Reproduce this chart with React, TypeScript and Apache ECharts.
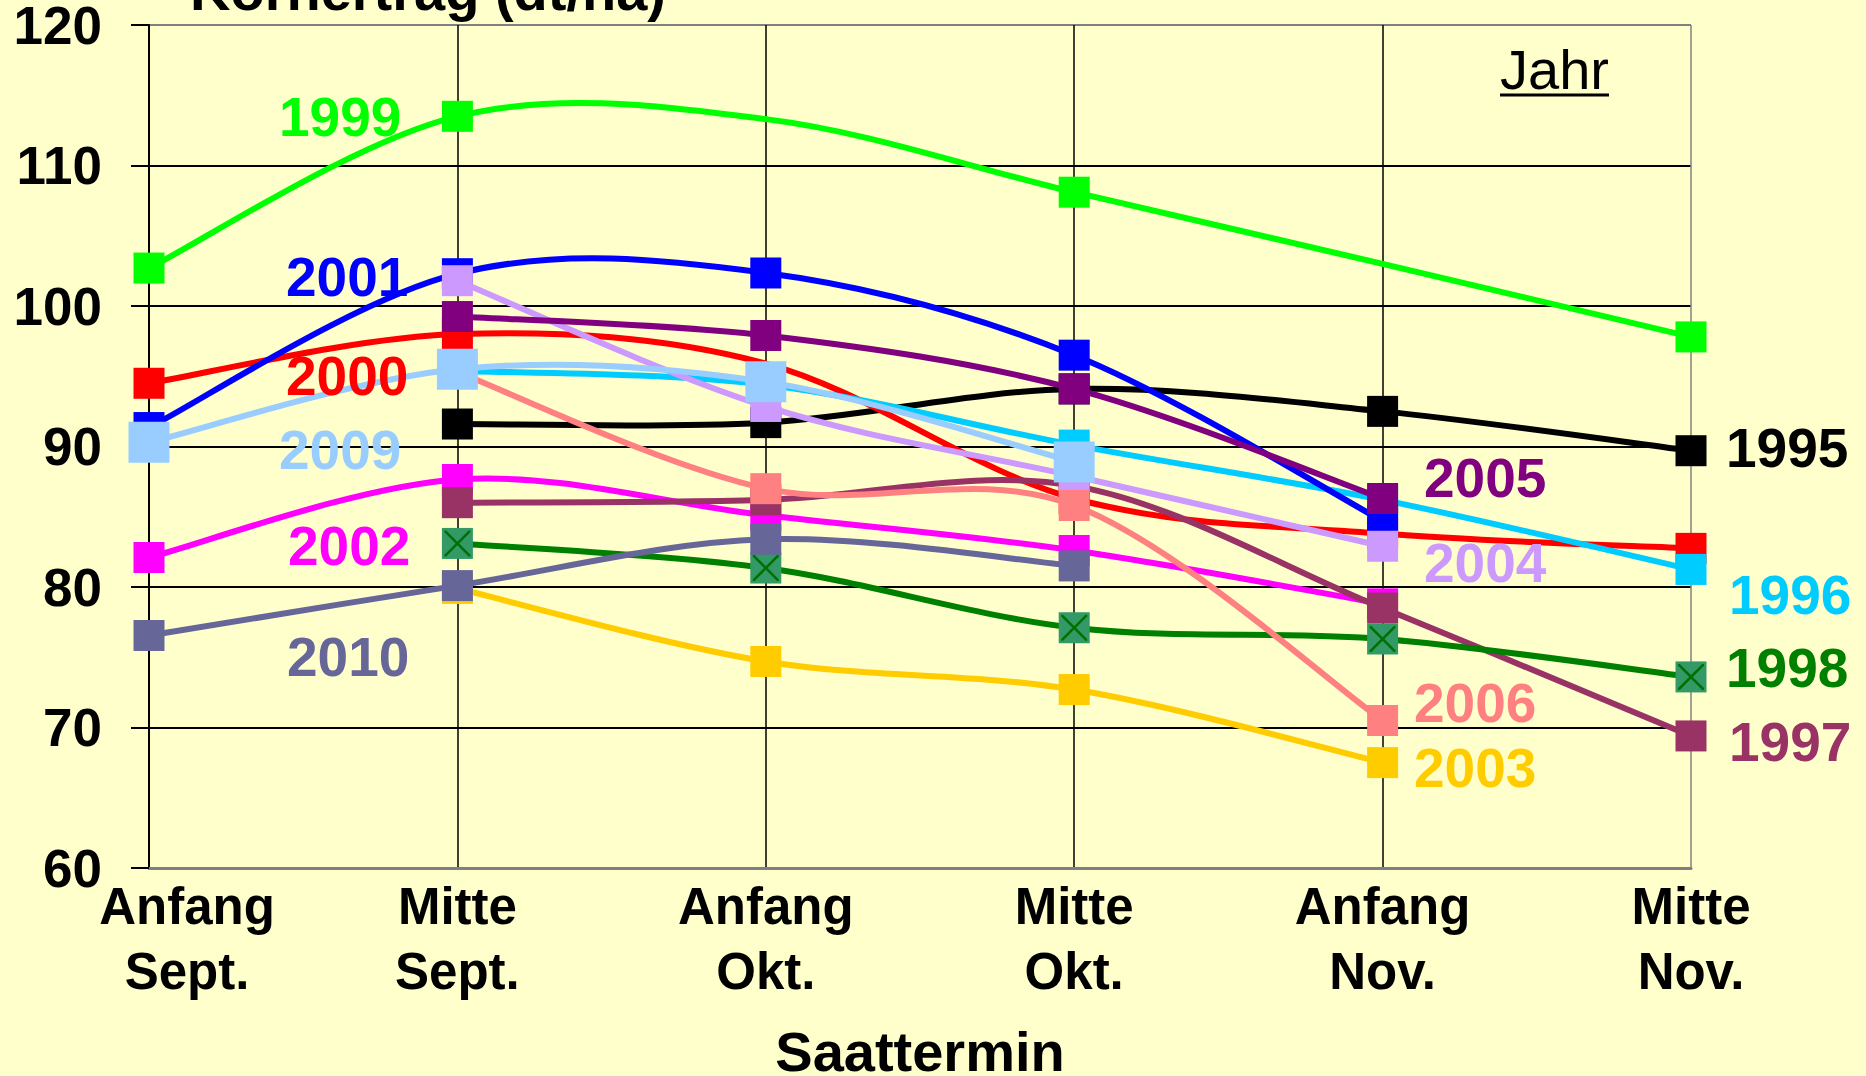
import React, { useEffect, useRef } from 'react';
import * as echarts from 'echarts';

// ---------- data ----------
const categories = ['Anfang\nSept.', 'Mitte\nSept.', 'Anfang\nOkt.', 'Mitte\nOkt.', 'Anfang\nNov.', 'Mitte\nNov.'];
const yMin = 60;
const yMax = 120;
const yStep = 10;

const y1995 = [null, 91.6, 91.7, 94.1, 92.5, 89.7];
const y1996 = [null, 95.4, 94.4, 90.1, 86.2, 81.25];
const y1997 = [null, 86.0, 86.2, 87.2, 78.5, 69.4];
const y1998 = [null, 83.1, 81.35, 77.1, 76.3, 73.6];
const y1999 = [102.7, 113.5, 113.3, 108.1, 103.0, 97.8];
const y2000 = [94.5, 98.0, 95.9, 86.3, 83.8, 82.75];
const y2001 = [91.35, 102.3, 102.35, 96.5, 84.7, null];
const y2002 = [82.1, 87.65, 85.1, 82.6, 78.8, null];
const y2003 = [null, 79.9, 74.7, 72.7, 67.5, null];
const y2004 = [null, 101.8, 92.85, 87.9, 82.9, null];
const y2005 = [null, 99.25, 97.9, 94.1, 86.3, null];
const y2006 = [null, 95.3, 87.0, 85.8, 70.5, null];
const y2009 = [90.3, 95.5, 94.6, 88.9, null, null];
const y2010 = [76.55, 80.1, 83.4, 81.5, null, null];

// points drawn by the line but without a visible marker
const hiddenMarkers: Record<string, number[]> = { '1999': [2, 4], '2000': [2] };

const FONT = '"Liberation Sans", Arial, Helvetica, sans-serif';

// drawing order (later on top)
const seriesDefs = [
  { name: '1995', data: y1995, color: '#000000' },
  { name: '2000', data: y2000, color: '#FF0000' },
  { name: '1996', data: y1996, color: '#00CCFF' },
  { name: '2001', data: y2001, color: '#0000FF' },
  { name: '2002', data: y2002, color: '#FF00FF' },
  { name: '2003', data: y2003, color: '#FFCC00' },
  { name: '1997', data: y1997, color: '#993366' },
  { name: '1998', data: y1998, color: '#008000', marker: '#339966', cross: true },
  { name: '1999', data: y1999, color: '#00FF00' },
  { name: '2004', data: y2004, color: '#CC99FF' },
  { name: '2005', data: y2005, color: '#800080' },
  { name: '2006', data: y2006, color: '#FF8080' },
  { name: '2009', data: y2009, color: '#99CCFF', big: true },
  { name: '2010', data: y2010, color: '#666699' },
];

// in-plot year labels (layout)
const yearLabels = [
  { text: '1999', color: '#00FF00', x: 279, y: 117 },
  { text: '2001', color: '#0000FF', x: 286, y: 277 },
  { text: '2000', color: '#FF0000', x: 286, y: 376 },
  { text: '2009', color: '#99CCFF', x: 279, y: 450 },
  { text: '2002', color: '#FF00FF', x: 288, y: 546 },
  { text: '2010', color: '#666699', x: 287, y: 657 },
  { text: '2005', color: '#800080', x: 1424, y: 478 },
  { text: '2004', color: '#CC99FF', x: 1424, y: 563 },
  { text: '2006', color: '#FF8080', x: 1414, y: 703 },
  { text: '2003', color: '#FFCC00', x: 1414, y: 768 },
  { text: '1995', color: '#000000', x: 1726, y: 448 },
  { text: '1996', color: '#00CCFF', x: 1729, y: 595 },
  { text: '1998', color: '#008000', x: 1726, y: 668 },
  { text: '1997', color: '#993366', x: 1729, y: 742 },
];

const crossPath =
  'path://M0,0 L1.4,0 L10,8.6 L18.6,0 L20,0 L20,1.4 L11.4,10 L20,18.6 L20,20 L18.6,20 L10,11.4 L1.4,20 L0,20 L0,18.6 L8.6,10 L0,1.4 Z';

const LINE_W = 6;

// Excel-like smoothed line: Catmull-Rom segments (tension 1/6) through the data points
function makeSmoothRenderer(vals: (number | null)[], color: string) {
  return (params: any, api: any) => {
    const i = params.dataIndex;
    if (i >= vals.length - 1 || vals[i] == null || vals[i + 1] == null) return { type: 'group', children: [] };
    const p = (j: number) => api.coord([j, vals[j] as number]);
    const p1 = p(i);
    const p2 = p(i + 1);
    const p0 = i > 0 && vals[i - 1] != null ? p(i - 1) : p1;
    const p3 = i + 2 < vals.length && vals[i + 2] != null ? p(i + 2) : p2;
    return {
      type: 'bezierCurve',
      shape: {
        x1: p1[0],
        y1: p1[1],
        x2: p2[0],
        y2: p2[1],
        cpx1: p1[0] + (p2[0] - p0[0]) / 6,
        cpy1: p1[1] + (p2[1] - p0[1]) / 6,
        cpx2: p2[0] - (p3[0] - p1[0]) / 6,
        cpy2: p2[1] - (p3[1] - p1[1]) / 6,
      },
      style: { stroke: color, lineWidth: LINE_W, fill: null, lineCap: 'round' },
      silent: true,
    };
  };
}

export default function App() {
  const ref = useRef<HTMLDivElement>(null);

  useEffect(() => {
    document.body.style.margin = '0';
    if (!ref.current) return;
    const chart = echarts.init(ref.current, undefined, { renderer: 'svg' });

    const series: any[] = [];
    seriesDefs.forEach((d: any, idx) => {
      const hidden = hiddenMarkers[d.name] || [];
      const base = 2 + idx * 3;
      // smoothed line
      series.push({
        type: 'custom',
        name: d.name,
        coordinateSystem: 'cartesian2d',
        data: d.data.map((v: number | null, i: number) => [i, v == null ? '-' : v]),
        encode: { x: 0, y: 1 },
        renderItem: makeSmoothRenderer(d.data, d.color),
        silent: true,
        z: base,
      });
      // markers
      series.push({
        type: 'line',
        name: d.name + ' marker',
        data: d.data.map((v: number | null, i: number) =>
          hidden.includes(i) ? { value: v, symbol: 'none' } : v
        ),
        symbol: 'rect',
        symbolSize: d.big ? 41 : 31,
        showSymbol: true,
        showAllSymbol: true,
        lineStyle: { opacity: 0, width: 0 },
        itemStyle: { color: d.marker || d.color },
        emphasis: { disabled: true },
        silent: true,
        z: base + 1,
      });
      if (d.cross) {
        series.push({
          type: 'line',
          name: d.name + ' x',
          data: d.data,
          symbol: crossPath,
          symbolSize: 26,
          showAllSymbol: true,
          lineStyle: { opacity: 0, width: 0 },
          itemStyle: { color: '#007000' },
          emphasis: { disabled: true },
          silent: true,
          z: base + 2,
        });
      }
    });

    const graphics: any[] = [
      {
        type: 'text',
        x: 190,
        y: -10,
        style: {
          text: 'Kornertrag (dt/ha)',
          fill: '#000',
          fontSize: 56,
          fontWeight: 'bold',
          fontFamily: FONT,
          align: 'left',
          verticalAlign: 'middle',
        },
      },
      {
        type: 'text',
        x: 1500,
        y: 69,
        style: {
          text: 'Jahr',
          fill: '#000',
          fontSize: 56,
          fontWeight: 'normal',
          fontFamily: FONT,
          align: 'left',
          verticalAlign: 'middle',
        },
      },
      {
        type: 'line',
        shape: { x1: 1500, y1: 95, x2: 1609, y2: 95 },
        style: { stroke: '#000', lineWidth: 3 },
      },
      ...yearLabels.map((l) => ({
        type: 'text',
        x: l.x,
        y: l.y,
        z: 100,
        style: {
          text: l.text,
          fill: l.color,
          fontSize: 55,
          fontWeight: 'bold',
          fontFamily: FONT,
          align: 'left',
          verticalAlign: 'middle',
        },
      })),
    ];

    chart.setOption({
      animation: false,
      backgroundColor: '#FFFFCC',
      grid: { left: 149, right: 175, top: 25, bottom: 208, containLabel: false, outerBoundsMode: 'none' },
      xAxis: {
        type: 'category',
        data: categories,
        boundaryGap: false,
        axisLine: { show: true, lineStyle: { color: '#808080', width: 3 } },
        axisTick: { show: false },
        splitLine: {
          show: true,
          lineStyle: { color: ['#000', '#000', '#000', '#000', '#000', '#808080'], width: 1.5 },
        },
        axisLabel: {
          interval: 0,
          showMinLabel: true,
          showMaxLabel: true,
          margin: 6,
          color: '#000',
          fontSize: 51,
          fontWeight: 'bold',
          fontFamily: FONT,
          lineHeight: 65,
          formatter: (v: string, i: number) =>
            i === 0 ? v.split('\n').map((s) => `{s|${s}}`).join('\n') : v,
          rich: {
            s: {
              padding: [0, 0, 0, 76],
              color: '#000',
              fontSize: 51,
              fontWeight: 'bold',
              fontFamily: FONT,
              lineHeight: 65,
            },
          },
        },
        name: 'Saattermin',
        nameLocation: 'middle',
        nameGap: 161,
        nameTextStyle: {
          color: '#000',
          fontSize: 56,
          fontWeight: 'bold',
          fontFamily: FONT,
          lineHeight: 44,
        },
      },
      yAxis: {
        type: 'value',
        min: yMin,
        max: yMax,
        interval: yStep,
        axisLine: { show: true, lineStyle: { color: '#000', width: 2 } },
        axisTick: { show: true, length: 18, lineStyle: { color: '#000', width: 2 } },
        splitLine: {
          show: true,
          lineStyle: { color: ['#808080', '#000', '#000', '#000', '#000', '#000', '#808080'], width: 2 },
        },
        axisLabel: {
          margin: 47,
          color: '#000',
          fontSize: 53,
          fontWeight: 'bold',
          fontFamily: FONT,
          lineHeight: 44,
        },
      },
      series,
      graphic: graphics,
    });

    return () => chart.dispose();
  }, []);

  return <div ref={ref} style={{ width: 1866, height: 1076 }} />;
}
